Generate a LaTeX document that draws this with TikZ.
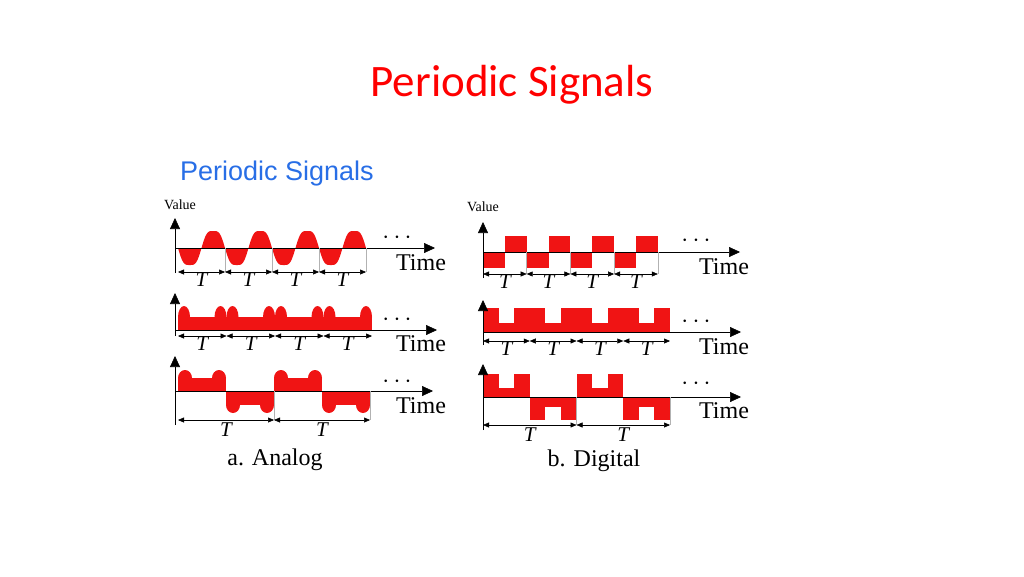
\documentclass[tikz,border=0pt]{standalone}
\usepackage{fontspec}
\setmainfont{Liberation Serif}
\newfontfamily\titlefont{Carlito}
\newfontfamily\headfont{Liberation Sans}
\usetikzlibrary{arrows.meta}
\definecolor{sigred}{RGB}{240,20,20}
\definecolor{headblue}{RGB}{40,110,230}
\tikzset{
  wave/.style={fill=sigred},
  axis/.style={line width=0.6pt,-{Triangle[length=11pt,width=10pt]}},
  guide/.style={gray!60,line width=0.5pt},
  period/.style={line width=0.5pt,{Triangle[length=6pt,width=5pt]}-{Triangle[length=6pt,width=5pt]}},
  tlabel/.style={font=\fontsize{21}{21}\selectfont\itshape},
  timelabel/.style={font=\fontsize{24}{24}\selectfont},
  dots/.style={font=\fontsize{30}{30}\selectfont\bfseries},
  valuelabel/.style={font=\fontsize{14}{14}\selectfont}
}
\begin{document}
\begin{tikzpicture}[x=1pt,y=-1pt]
\useasboundingbox (0,0) rectangle (1024,576);
\node[text=red,font=\titlefont\fontsize{45}{45}\selectfont] (title) at (512,85) {Periodic Signals};
\node[text=headblue,font=\headfont\fontsize{27}{27}\selectfont] (head) at (277,174) {Periodic Signals};

% analog, row 1: sine
\fill[wave] (178,248) -- plot[domain=0:188,samples=200] ({178+\x},{248+17*(1.5*sin(\x/47*360)-0.5*sin(\x/47*360)^3)}) -- cycle;
% analog, row 2: bumps
\fill[wave] (178,330) rectangle (372,317);
\foreach \k in {0,...,3} {
  \fill[wave] ({178+\k*48.5+6},317) ellipse (6 and 11);
  \fill[wave] ({178+(\k+1)*48.5-6},317) ellipse (6 and 11);
}
% analog, row 3: positive / negative halves
\foreach \k in {0,2} {
  \fill[wave] ({178+\k*48},391) rectangle ({178+(\k+1)*48},378);
  \fill[wave] ({178+\k*48+7},378) ellipse (7 and 8);
  \fill[wave] ({178+(\k+1)*48-7},378) ellipse (7 and 8);
  \fill[wave] ({178+(\k+1)*48},391) rectangle ({178+(\k+2)*48},405);
  \fill[wave] ({178+(\k+1)*48+7},405) ellipse (7 and 8);
  \fill[wave] ({178+(\k+2)*48-7},405) ellipse (7 and 8);
}

% digital, row 1: square
\foreach \k in {0,...,3} {
  \fill[wave] ({483+\k*43.7},252) rectangle ({483+\k*43.7+21.85},268);
  \fill[wave] ({483+\k*43.7+21.85},252) rectangle ({483+(\k+1)*43.7},236);
}
% digital, row 2: notched pulses
\fill[wave] (483,332) rectangle (670,323);
\foreach \k in {0,...,3} {
  \fill[wave] ({483+\k*46.75},323) rectangle ({483+\k*46.75+15.6},308);
  \fill[wave] ({483+(\k+1)*46.75-15.6},323) rectangle ({483+(\k+1)*46.75},308);
}
% digital, row 3: notched halves
\foreach \k in {0,2} {
  \fill[wave] ({483+\k*46.75},397) rectangle ({483+(\k+1)*46.75},388);
  \fill[wave] ({483+\k*46.75},388) rectangle ({483+\k*46.75+15.6},374);
  \fill[wave] ({483+(\k+1)*46.75-15.6},388) rectangle ({483+(\k+1)*46.75},374);
  \fill[wave] ({483+(\k+1)*46.75},397) rectangle ({483+(\k+2)*46.75},407);
  \fill[wave] ({483+(\k+1)*46.75},407) rectangle ({483+(\k+1)*46.75+15.6},420);
  \fill[wave] ({483+(\k+2)*46.75-15.6},407) rectangle ({483+(\k+2)*46.75},420);
}

% axes
\node[valuelabel] (aval) at (180,205) {Value};
\node[valuelabel] (dval) at (483,207) {Value};
\draw[axis] (175,273) -- (175,218);
\draw[axis] (175,248) -- (435,248);
\draw[axis] (175,336) -- (175,293);
\draw[axis] (175,330) -- (437,330);
\draw[axis] (175,425) -- (175,356);
\draw[axis] (175,391) -- (433,391);
\draw[axis] (483,278) -- (483,222);
\draw[axis] (483,252) -- (740,252);
\draw[axis] (483,345) -- (483,300);
\draw[axis] (483,332) -- (741,332);
\draw[axis] (483,430) -- (483,364);
\draw[axis] (483,397) -- (741,397);

\foreach \y/\n in {238/a1,320/a2,382/a3} \node[dots] (dots\n) at (397,\y) {$\cdots$};
\foreach \y/\n in {241/d1,322/d2,384/d3} \node[dots] (dots\n) at (696,\y) {$\cdots$};
\foreach \y/\n in {263/a1,344/a2,406/a3} \node[timelabel] (time\n) at (421,\y) {Time};
\foreach \y/\n in {267/d1,347/d2,411/d3} \node[timelabel] (time\n) at (724,\y) {Time};

% period markers
\foreach \k in {0,...,3} {
  \coordinate (pa\k) at ({178+\k*47},272);
  \coordinate (pb\k) at ({178+(\k+1)*47},272);
  \draw[guide] ({178+(\k+1)*47},248) -- (pb\k);
  \draw[period] (pa\k) -- node[tlabel,below=-3pt] {T} (pb\k);
  \coordinate (qa\k) at ({178+\k*48.5},336);
  \coordinate (qb\k) at ({178+(\k+1)*48.5},336);
  \draw[period] (qa\k) -- node[tlabel,below=-3pt] {T} (qb\k);
  \coordinate (ra\k) at ({483+\k*43.7},274);
  \coordinate (rb\k) at ({483+(\k+1)*43.7},274);
  \draw[guide] ({483+(\k+1)*43.7},252) -- (rb\k);
  \draw[period] (ra\k) -- node[tlabel,below=-3pt] {T} (rb\k);
  \coordinate (sa\k) at ({483+\k*46.75},341);
  \coordinate (sb\k) at ({483+(\k+1)*46.75},341);
  \draw[period] (sa\k) -- node[tlabel,below=-3pt] {T} (sb\k);
}
\foreach \k in {0,1} {
  \coordinate (ua\k) at ({178+\k*96},420);
  \coordinate (ub\k) at ({178+(\k+1)*96},420);
  \draw[guide] ({178+(\k+1)*96},391) -- (ub\k);
  \draw[period] (ua\k) -- node[tlabel,below=-1pt] {T} (ub\k);
  \coordinate (va\k) at ({483+\k*93.5},425);
  \coordinate (vb\k) at ({483+(\k+1)*93.5},425);
  \draw[guide] ({483+(\k+1)*93.5},397) -- (vb\k);
  \draw[period] (va\k) -- node[tlabel,below=-1pt] {T} (vb\k);
}
\node[timelabel] (analog) at (275,460) {a. Analog};
\node[timelabel] (digital) at (594,461) {b. Digital};
\end{tikzpicture}
\end{document}
